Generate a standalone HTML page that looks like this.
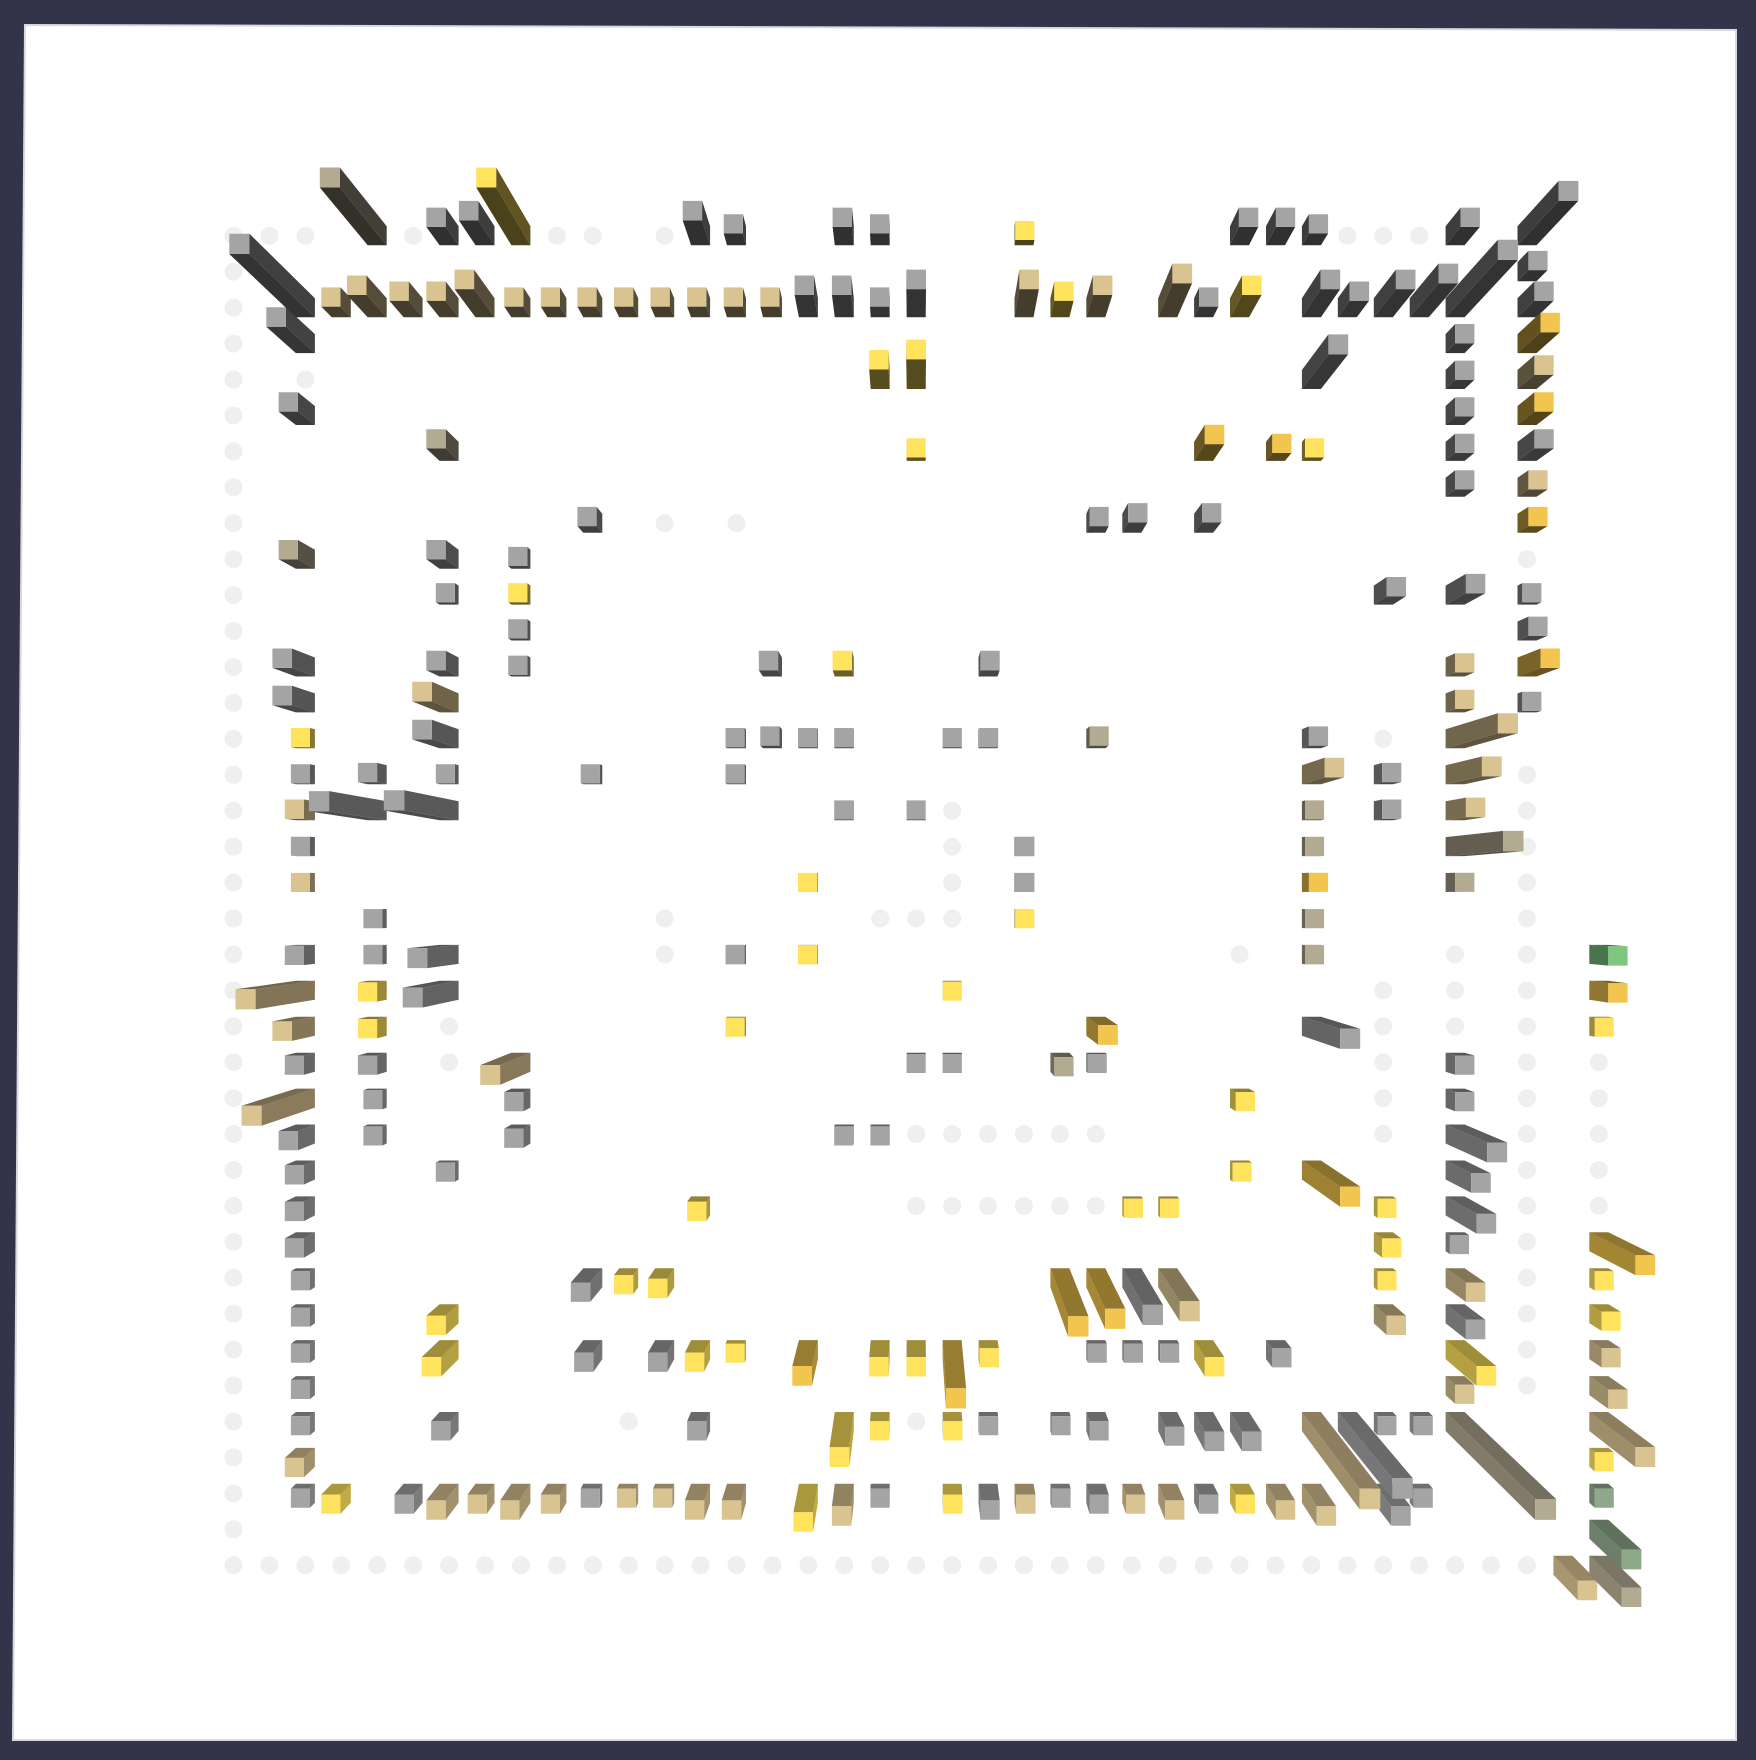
<!DOCTYPE html>
<html><head><meta charset="utf-8"><style>
html,body{margin:0;padding:0;background:#33334a;}
svg{display:block;}
</style></head><body>
<svg id="chart" width="1756" height="1760" viewBox="0 0 1756 1760" xmlns="http://www.w3.org/2000/svg">
<rect x="0" y="0" width="1756" height="1760" fill="#33334a"/>
<polygon points="25,25 1736,30 1736,1740 13,1740" fill="#ffffff" stroke="#d8d8e0" stroke-width="2"/>
<g id="dots"></g>
<g id="bars"></g>
</svg>
<script>
// ---- data (grid column, grid row, height %, kind) ----
const barCol = [4,6,7,8,13,14,17,18,22,28,29,30,34,36, 36,
 2,3,4,5,6,7,8,9,10,11,12,13,14,15,16,17,18,19,22,23,24,26,27,28,30,31,32,33,34,36,
 2,34,36, 18,19,30,34,36, 2,34,36, 6,19,27,29,30,34,36, 34,36, 10,24,25,27,36,
 2,6,8, 6,8,32,34,36, 8,36, 2,6,8,15,17,21,34,36, 2,6,34,36,
 2,6,14,15,16,17,20,21,24,30,34, 2,4,6,10,14,30,32,34, 2,4,6,17,19,30,32,34,
 2,22,30,34, 2,16,22,30,34, 4,22,30, 2,4,6,14,16,30,38, 2,4,6,20,38,
 2,4,14,24,30,38, 2,4,8,19,20,23,24,34, 2,4,8,28,34, 2,4,8,17,18,34,
 2,6,28,30,34, 2,13,25,26,32,34, 2,32,34,38, 2,10,11,12,23,24,25,26,32,34,38,
 2,6,32,34,38, 2,6,10,12,13,14,16,18,19,20,21,24,25,26,27,29,34,38, 2,34,38,
 2,6,13,17,18,20,21,23,24,26,27,28,30,31,32,33,34,38, 2,38,
 2,3,5,6,7,8,9,10,11,12,13,14,16,17,18,20,21,22,23,24,25,26,27,28,29,30,32,33,38, 38, 37,38];
const barRow = [0,0,0,0,0,0,0,0,0,0,0,0,0,0, 1,
 2,2,2,2,2,2,2,2,2,2,2,2,2,2,2,2,2,2,2,2,2,2,2,2,2,2,2,2,2,2,
 3,3,3, 4,4,4,4,4, 5,5,5, 6,6,6,6,6,6,6, 7,7, 8,8,8,8,8,
 9,9,9, 10,10,10,10,10, 11,11, 12,12,12,12,12,12,12,12, 13,13,13,13,
 14,14,14,14,14,14,14,14,14,14,14, 15,15,15,15,15,15,15,15, 16,16,16,16,16,16,16,16,
 17,17,17,17, 18,18,18,18,18, 19,19,19, 20,20,20,20,20,20,20, 21,21,21,21,21,
 22,22,22,22,22,22, 23,23,23,23,23,23,23,23, 24,24,24,24,24, 25,25,25,25,25,25,
 26,26,26,26,26, 27,27,27,27,27,27, 28,28,28,28, 29,29,29,29,29,29,29,29,29,29,29,
 30,30,30,30,30, 31,31,31,31,31,31,31,31,31,31,31,31,31,31,31,31,31,31, 32,32,32,
 33,33,33,33,33,33,33,33,33,33,33,33,33,33,33,33,33,33, 34,34,
 35,35,35,35,35,35,35,35,35,35,35,35,35,35,35,35,35,35,35,35,35,35,35,35,35,35,35,35,35, 36, 37,37];
const barHeight = [8,2,3,8,3,1,2,1,0,2,2,1,2,6, 1,
 10,1,3,2,2,4,1,1,1,1,1,1,1,1,3,3,1,4,4,2,3,5,1,3,4,2,4,5,9,2,
 4,1,3, 3,5,6,1,2, 2,1,2, 2,0,3,1,0,1,2, 1,1, 1,1,2,2,1,
 2,2,0, 0,0,2,3,0, 0,1, 3,2,0,2,2,2,1,3, 3,5,1,0,
 0,5,0,1,0,0,0,0,1,1,9, 0,1,0,0,0,5,1,6, 1,10,11,0,0,0,1,3,
 0,0,0,10, 0,0,0,1,1, 0,0,0, 1,0,6,0,0,0,2, 9,1,7,0,2,
 3,1,0,6,9,0, 1,1,7,0,0,2,0,1, 8,0,1,1,1, 2,0,1,0,0,7,
 1,0,0,9,4, 1,1,0,0,0,5, 1,1,0,6, 0,3,1,2,12,10,9,8,0,3,0,
 0,2,2,3,1, 0,3,2,2,2,0,5,3,3,10,1,0,0,0,3,1,5,1, 0,1,2,
 0,1,1,6,1,1,0,0,1,2,3,3,14,12,0,0,16,6, 1,0,
 0,1,1,2,1,2,1,0,0,0,2,2,4,3,0,1,2,1,0,1,1,2,1,1,2,3,3,0,0, 4, 3,4];
const barKind = ['t','g','g','y','g','g','g','g','y','g','g','g','g','g', 'g',
 'g','b','b','b','b','b','b','b','b','b','b','b','b','b','g','g','g','g','b','y','b','b','g','y','g','g','g','g','g','g',
 'g','g','o', 'y','y','g','g','b', 'g','g','o', 't','y','o','o','y','g','g', 'g','b', 'g','g','g','g','o',
 't','g','g', 'g','y','g','g','g', 'g','g', 'g','g','g','g','y','g','b','o', 'g','b','b','g',
 'y','g','g','g','g','g','g','g','t','g','b', 'g','g','g','g','g','b','g','b', 'b','g','g','g','g','t','g','b',
 'g','g','t','t', 'b','y','g','o','t', 'g','y','t', 'g','g','g','g','y','t','n', 'b','y','g','y','o',
 'b','y','y','o','g','y', 'g','g','b','g','g','t','g','g', 'b','g','g','y','g', 'g','g','g','g','g','g',
 'g','g','y','o','g', 'g','y','y','y','y','g', 'g','y','g','o', 'g','g','y','y','o','o','g','b','y','b','y',
 'g','y','b','g','y', 'g','y','g','g','y','y','o','y','y','o','y','g','g','g','y','g','y','b', 'g','b','b',
 'g','g','g','y','y','y','g','g','g','g','g','g','b','g','g','g','t','b', 'b','y',
 'g','y','g','b','b','b','b','g','b','b','b','b','y','b','g','y','g','b','g','g','b','b','g','y','b','b','g','g','m', 'm', 'b','t'];
// extra empty-cell dots (column, row)
const dotCol = [1,2,5,9,10,12,31,32,33, 2,2, 12,14, 36,36,36,36,36,36,36,36,36,36,36,36,36,36,36,36,36,36,36,
 34,34,34, 32,32,32,32,32,32, 28, 6,6, 19,20,21,22,23,24, 19,20,21,22,23,24, 11,19, 20,20,20,20, 18,19, 12,12, 38,38,38,38,38, 0];
const dotRow = [0,0,0,0,0,0,0,0,0, 3,4, 8,8, 9,15,16,17,18,19,20,21,22,23,24,25,26,27,28,29,30,31,32,
 20,21,22, 14,21,22,23,24,25, 20, 22,23, 25,25,25,25,25,25, 27,27,27,27,27,27, 33,33, 16,17,18,19, 19,19, 19,20, 23,24,25,26,27, 37];

// ---- axis / projection functions ----
const X0 = 233.5, Y0 = 235.8, STEP = 35.93;
const CX = 916, CY = 898;
function xPos(c){ return X0 + c*STEP; }
function yPos(r){ return Y0 + r*STEP; }
function lift(h){ return 1 + h/100; }
const TOPS = {g:'#a4a4a4', b:'#d9c391', t:'#b3aa92', y:'#ffe35c', o:'#f2c64e', n:'#7fc77f', m:'#8ea88a'};
function hex2rgb(h){ return [parseInt(h.slice(1,3),16),parseInt(h.slice(3,5),16),parseInt(h.slice(5,7),16)]; }
function shade(h,f){ const c=hex2rgb(h); return 'rgb('+c.map(v=>Math.round(v*f)).join(',')+')'; }
const NS = 'http://www.w3.org/2000/svg';

const dotsG = document.getElementById('dots');
function addDot(c,r){
  const d = document.createElementNS(NS,'circle');
  d.setAttribute('cx', xPos(c)); d.setAttribute('cy', yPos(r)); d.setAttribute('r', 9);
  d.setAttribute('fill', '#efefef');
  
  
  dotsG.appendChild(d);
}
for(let r=0;r<=36;r++) addDot(0,r);
for(let c=1;c<=36;c++) addDot(c,37);
for(let i=0;i<dotCol.length;i++) addDot(dotCol[i],dotRow[i]);

const barsG = document.getElementById('bars');
const order = barCol.map((_,i)=>i).sort((a,b)=>barHeight[a]-barHeight[b]);
function poly(pts, fill, parent){
  const p = document.createElementNS(NS,'polygon');
  p.setAttribute('points', pts.map(q=>q[0].toFixed(1)+','+q[1].toFixed(1)).join(' '));
  p.setAttribute('fill', fill);
  
  
  parent.appendChild(p);
}
order.forEach(i=>{
  const bx = xPos(barCol[i]), by = yPos(barRow[i]);
  const k = lift(barHeight[i] + 0.8);
  const tx = CX + (bx-CX)*k, ty = CY + (by-CY)*k;
  const s = 9.5, st = 9.5*(1 + (k-1)*0.6);
  const top = TOPS[barKind[i]];
  const f = 0.28 + 0.42*Math.min(1, Math.max(0,(by-200)/1400));
  const g = document.createElementNS(NS,'g');
  
  
  const B = {l:bx-s, r:bx+s, t:by-s, b:by+s};
  const T = {l:tx-st, r:tx+st, t:ty-st, b:ty+st};
  if (tx > bx) poly([[B.l,B.t],[B.l,B.b],[T.l,T.b],[T.l,T.t]], shade(top,f+0.08), g);
  else poly([[B.r,B.t],[B.r,B.b],[T.r,T.b],[T.r,T.t]], shade(top,f+0.08), g);
  if (ty > by) poly([[B.l,B.t],[B.r,B.t],[T.r,T.t],[T.l,T.t]], shade(top,f), g);
  else poly([[B.l,B.b],[B.r,B.b],[T.r,T.b],[T.l,T.b]], shade(top,f), g);
  poly([[T.l,T.t],[T.r,T.t],[T.r,T.b],[T.l,T.b]], top, g);
  barsG.appendChild(g);
});
</script>
</body></html>
